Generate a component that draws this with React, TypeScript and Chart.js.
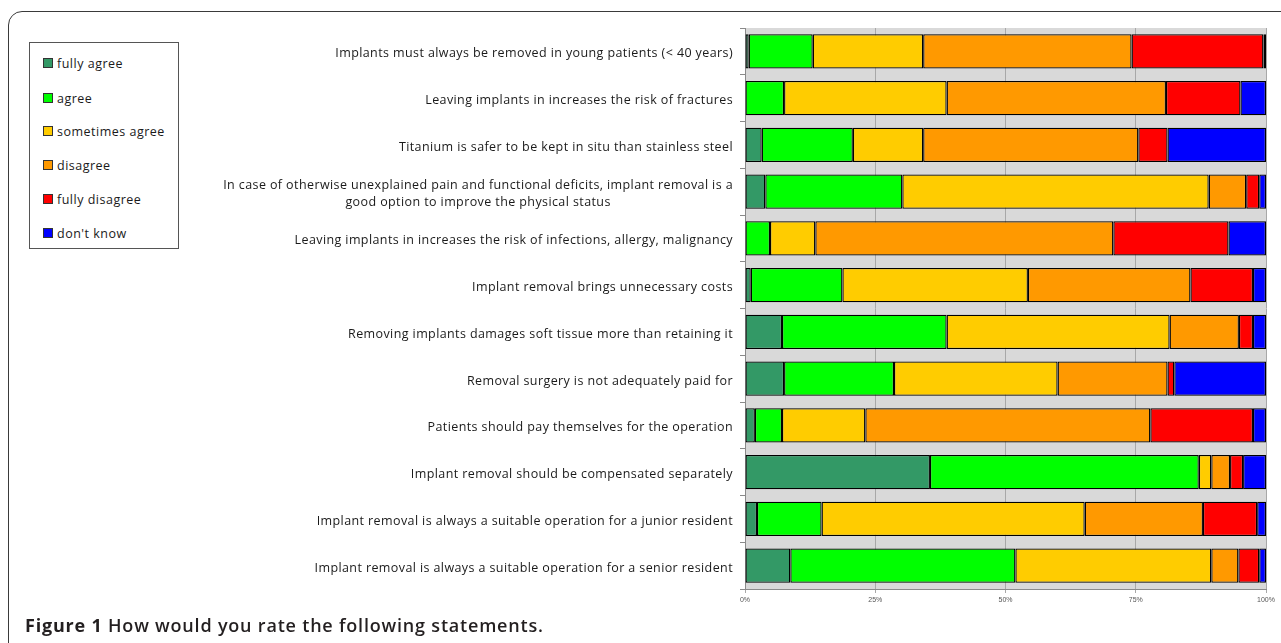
import React, { useEffect, useRef } from "react";
import { Chart, registerables } from "chart.js";

Chart.register(...registerables);

const categories: (string | string[])[] = [
  "Implants must always be removed in young patients (< 40 years)",
  "Leaving implants in increases the risk of fractures",
  "Titanium is safer to be kept in situ than stainless steel",
  [
    "In case of otherwise unexplained pain and functional deficits, implant removal is a",
    "good option to improve the physical status",
  ],
  "Leaving implants in increases the risk of infections, allergy, malignancy",
  "Implant removal brings unnecessary costs",
  "Removing implants damages soft tissue more than retaining it",
  "Removal surgery is not adequately paid for",
  "Patients should pay themselves for the operation",
  "Implant removal should be compensated separately",
  "Implant removal is always a suitable operation for a junior resident",
  "Implant removal is always a suitable operation for a senior resident",
];

const fullyAgree = [0.7, 0, 3.2, 3.9, 0, 1.1, 7.1, 7.5, 1.9, 35.5, 2.3, 8.7];
const agree = [12.3, 7.5, 17.5, 26.3, 4.8, 17.6, 31.6, 21.1, 5.2, 51.6, 12.4, 43.2];
const sometimesAgree = [21.2, 31.2, 13.5, 58.8, 8.7, 35.6, 42.8, 31.4, 16.0, 2.4, 50.5, 37.6];
const disagree = [40.0, 42.1, 41.3, 7.2, 57.2, 31.2, 13.3, 21.1, 54.7, 3.6, 22.7, 5.2];
const fullyDisagree = [25.3, 14.3, 5.6, 2.5, 22.1, 12.0, 2.7, 1.3, 19.7, 2.5, 10.4, 4.0];
const dontKnow = [0.5, 4.9, 18.9, 1.3, 7.2, 2.5, 2.5, 17.6, 2.5, 4.4, 1.7, 1.3];

const seriesNames = ["fully agree", "agree", "sometimes agree", "disagree", "fully disagree", "don't know"];
const seriesValues = [fullyAgree, agree, sometimesAgree, disagree, fullyDisagree, dontKnow];
const seriesColors = ["#339966", "#00ff00", "#ffcc00", "#ff9900", "#ff0000", "#0000ff"];

const xTickStep = 25;
const xTickSuffix = "%";

const LABEL_FONT = "Open Sans";

export default function App() {
  const canvasRef = useRef<HTMLCanvasElement | null>(null);

  useEffect(() => {
    const canvas = canvasRef.current;
    if (!canvas) return;

    const bgPlugin = {
      id: "plotBg",
      beforeDraw(chart: any) {
        const { ctx, chartArea } = chart;
        ctx.save();
        ctx.fillStyle = "#d9d9d9";
        ctx.fillRect(chartArea.left, chartArea.top, chartArea.right - chartArea.left, chartArea.bottom - chartArea.top);
        ctx.restore();
      },
    };

    const labelPlugin = {
      id: "catLabels",
      afterDraw(chart: any) {
        const ctx = chart.ctx;
        const yScale = chart.scales.y;
        const right = chart.chartArea.left - 12;
        ctx.save();
        ctx.font = `12.5px "${LABEL_FONT}"`;
        (ctx as any).letterSpacing = "0.4px";
        ctx.fillStyle = "#1a1a1a";
        ctx.textBaseline = "middle";
        categories.forEach((lab, i) => {
          const cy = yScale.getPixelForValue(i) + 2.5;
          const lines = Array.isArray(lab) ? lab : [lab];
          if (lines.length === 1) {
            ctx.textAlign = "right";
            ctx.fillText(lines[0], right, cy);
          } else {
            const w = Math.max(...lines.map((l) => ctx.measureText(l).width));
            ctx.textAlign = "center";
            const lh = 17;
            lines.forEach((l, k) => {
              ctx.fillText(l, right - w / 2, cy + (k - (lines.length - 1) / 2) * lh);
            });
          }
        });
        ctx.restore();
      },
    };

    const chart = new Chart(canvas, {
      type: "bar",
      data: {
        labels: categories.map((c) => (Array.isArray(c) ? c.join(" ") : c)),
        datasets: seriesNames.map((name, i) => ({
          label: name,
          data: seriesValues[i],
          backgroundColor: seriesColors[i],
          borderColor: "#000",
          borderWidth: 1.3,
          borderSkipped: false,
          barPercentage: 0.73,
          categoryPercentage: 1,
        })),
      },
      options: {
        indexAxis: "y",
        responsive: false,
        animation: false,
        layout: { padding: { left: 740, right: 15, top: 28, bottom: 34 } },
        plugins: {
          legend: { display: false },
          tooltip: { enabled: false },
          title: { display: false },
        },
        scales: {
          x: {
            stacked: true,
            min: 0,
            max: 100,
            ticks: {
              stepSize: xTickStep,
              callback: (v: any) => `${v}${xTickSuffix}`,
              font: { size: 7, family: "Liberation Sans" },
              color: "#555",
              padding: 3,
              maxRotation: 0,
            },
            grid: { color: "#a8a8a8", tickLength: 4, lineWidth: 1 },
            border: { display: true, color: "#8a8a8a" },
            afterFit: (s: any) => {
              s.height = 20;
            },
          },
          y: {
            stacked: true,
            ticks: { display: false },
            grid: { display: true, offset: true, drawOnChartArea: false, tickLength: 5, color: "#8a8a8a" },
            border: { display: true, color: "#8a8a8a" },
            afterFit: (s: any) => {
              s.width = 5;
            },
          },
        },
      },
      plugins: [bgPlugin, labelPlugin],
    });

    return () => chart.destroy();
  }, []);

  const legendTops = [20, 55, 88, 122, 156, 190];

  return (
    <div
      style={{
        position: "fixed",
        left: 0,
        top: 0,
        width: 1281,
        height: 643,
        background: "#fff",
        overflow: "hidden",
      }}
    >
      <div
        style={{
          position: "absolute",
          left: 8,
          top: 11,
          width: 1320,
          height: 700,
          border: "1.5px solid #3a3a3a",
          borderTopLeftRadius: 14,
          boxSizing: "border-box",
        }}
      />
      <canvas
        ref={canvasRef}
        width={1281}
        height={643}
        style={{ position: "absolute", left: 0, top: 0, width: 1281, height: 643 }}
      />
      <div
        style={{
          position: "absolute",
          left: 29,
          top: 42,
          width: 150,
          height: 207,
          border: "1px solid #555",
          boxSizing: "border-box",
          background: "#fff",
          fontFamily: LABEL_FONT,
          fontSize: 12.5,
          color: "#1a1a1a",
        }}
      >
        {seriesNames.map((name, i) => (
          <div
            key={name}
            style={{
              position: "absolute",
              left: 13,
              top: legendTops[i] - 9,
              height: 18,
              display: "flex",
              alignItems: "center",
              whiteSpace: "nowrap",
            }}
          >
            <span
              style={{
                display: "inline-block",
                width: 10,
                height: 10,
                background: seriesColors[i],
                border: "1px solid #333",
                boxSizing: "border-box",
                marginRight: 4,
              }}
            />
            <span style={{ letterSpacing: 0.5 }}>{name}</span>
          </div>
        ))}
      </div>
      <div
        style={{
          position: "absolute",
          left: 25,
          top: 614,
          fontFamily: "Open Sans",
          fontSize: 18,
          lineHeight: "22px",
          color: "#231f20",
          whiteSpace: "nowrap",
          letterSpacing: 0.8,
        }}
      >
        <span style={{ fontWeight: 700 }}>Figure 1</span>
        <span style={{ fontWeight: 600 }}> How would you rate the following statements.</span>
      </div>
    </div>
  );
}
